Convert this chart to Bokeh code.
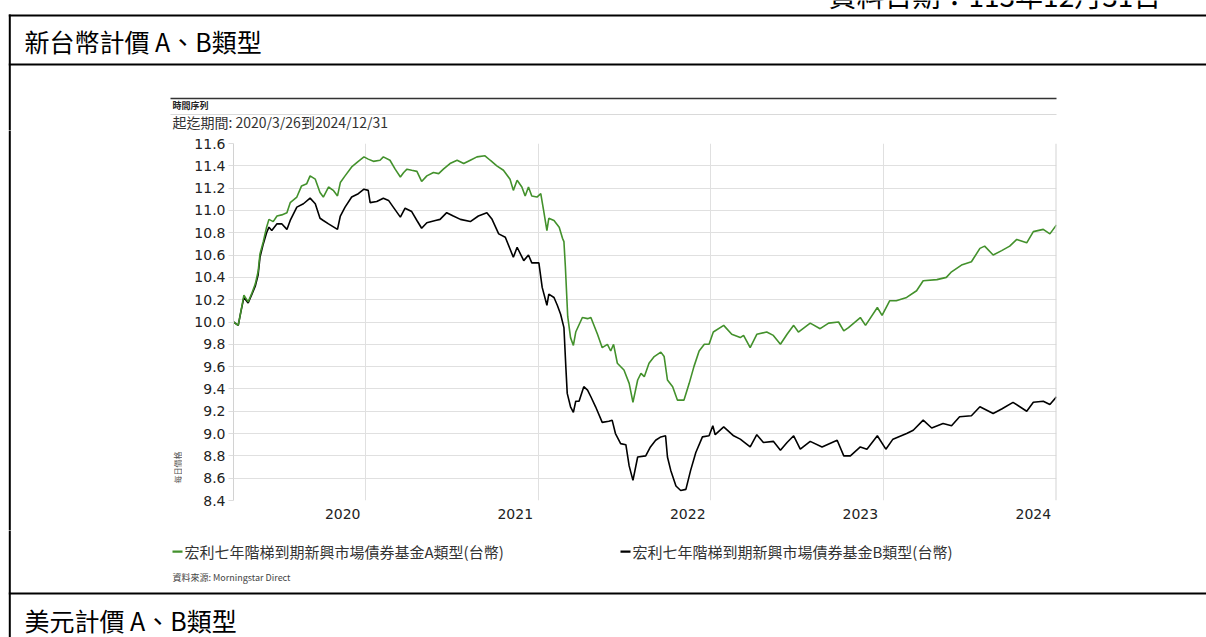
import pandas as pd
from bokeh.plotting import figure
from bokeh.layouts import column, row
from bokeh.models import (Range1d, FixedTicker, Label, NumeralTickFormatter,
                          CustomJSTickFormatter, Span)
from bokeh.embed import file_html
from bokeh.resources import INLINE

# ---------------- data ----------------
dates_a = [
    "2020-03-26", "2020-04-05", "2020-04-10", "2020-04-17", "2020-04-26", "2020-05-04", "2020-05-11",
    "2020-05-17", "2020-05-21", "2020-05-28", "2020-06-04", "2020-06-09", "2020-06-18", "2020-06-26",
    "2020-07-06", "2020-07-17", "2020-07-24", "2020-08-07", "2020-08-17", "2020-08-28", "2020-09-04",
    "2020-09-15", "2020-09-25", "2020-10-02", "2020-10-13", "2020-10-23", "2020-11-01", "2020-11-07",
    "2020-11-17", "2020-12-01", "2020-12-15", "2020-12-27", "2021-01-05", "2021-01-16", "2021-01-30",
    "2021-02-06", "2021-02-20", "2021-03-03", "2021-03-14", "2021-03-21", "2021-03-28", "2021-04-07",
    "2021-04-18", "2021-04-28", "2021-05-09", "2021-05-23", "2021-06-03", "2021-06-13", "2021-06-27",
    "2021-07-12", "2021-07-26", "2021-08-09", "2021-08-23", "2021-09-09", "2021-09-20", "2021-10-04",
    "2021-10-18", "2021-11-01", "2021-11-08", "2021-11-16", "2021-11-26", "2021-12-03", "2021-12-10",
    "2021-12-17", "2021-12-28", "2022-01-05", "2022-01-11", "2022-01-18", "2022-01-22", "2022-02-02",
    "2022-02-13", "2022-02-20", "2022-02-23", "2022-02-26", "2022-03-03", "2022-03-09", "2022-03-15",
    "2022-03-20", "2022-04-03", "2022-04-14", "2022-04-21", "2022-05-05", "2022-05-15", "2022-05-26",
    "2022-06-02", "2022-06-08", "2022-06-16", "2022-06-30", "2022-07-11", "2022-07-19", "2022-07-29",
    "2022-08-05", "2022-08-12", "2022-08-22", "2022-09-02", "2022-09-16", "2022-09-23", "2022-09-30",
    "2022-10-11", "2022-10-21", "2022-11-04", "2022-11-15", "2022-11-25", "2022-12-06", "2022-12-17",
    "2022-12-27", "2023-01-05", "2023-01-27", "2023-02-13", "2023-03-03", "2023-03-10", "2023-03-24",
    "2023-04-07", "2023-04-28", "2023-05-12", "2023-05-27", "2023-06-10", "2023-06-24", "2023-07-04",
    "2023-07-29", "2023-08-19", "2023-09-06", "2023-09-27", "2023-10-08", "2023-10-18", "2023-11-12",
    "2023-11-23", "2023-12-18", "2023-12-28", "2024-01-13", "2024-01-27", "2024-02-18", "2024-03-10",
    "2024-03-24", "2024-04-22", "2024-05-12", "2024-05-23", "2024-06-13", "2024-07-04", "2024-07-22",
    "2024-08-01", "2024-08-19", "2024-09-06", "2024-09-23", "2024-10-08", "2024-10-29", "2024-11-12",
    "2024-12-03", "2024-12-17", "2024-12-31",
]
nav_a = [
    10.00, 9.97, 10.08, 10.24, 10.18, 10.26, 10.34,
    10.45, 10.61, 10.72, 10.85, 10.92, 10.90, 10.95,
    10.96, 10.98, 11.07, 11.12, 11.22, 11.24, 11.31,
    11.28, 11.16, 11.12, 11.21, 11.18, 11.13, 11.25,
    11.31, 11.39, 11.44, 11.48, 11.46, 11.44, 11.45,
    11.48, 11.45, 11.37, 11.30, 11.34, 11.37, 11.36,
    11.35, 11.26, 11.31, 11.34, 11.33, 11.37, 11.42,
    11.45, 11.42, 11.45, 11.48, 11.49, 11.45, 11.40,
    11.36, 11.28, 11.18, 11.27, 11.21, 11.13, 11.21,
    11.13, 11.12, 11.15, 11.00, 10.82, 10.93, 10.91,
    10.85, 10.75, 10.72, 10.50, 10.05, 9.86, 9.79,
    9.91, 10.04, 10.03, 10.04, 9.89, 9.77, 9.80,
    9.74, 9.80, 9.63, 9.57, 9.45, 9.28, 9.48,
    9.54, 9.51, 9.63, 9.69, 9.73, 9.69, 9.48,
    9.42, 9.30, 9.30, 9.45, 9.60, 9.74, 9.80,
    9.80, 9.91, 9.97, 9.89, 9.86, 9.88, 9.77,
    9.89, 9.91, 9.88, 9.80, 9.89, 9.97, 9.91,
    9.99, 9.94, 9.99, 10.00, 9.92, 9.95, 10.04,
    9.97, 10.13, 10.06, 10.19, 10.19, 10.22, 10.28,
    10.37, 10.38, 10.40, 10.45, 10.51, 10.54, 10.66,
    10.68, 10.60, 10.64, 10.68, 10.74, 10.71, 10.81,
    10.83, 10.79, 10.87,
]

dates_b = [
    "2020-03-26", "2020-04-05", "2020-04-10", "2020-04-17", "2020-04-26", "2020-05-04", "2020-05-11",
    "2020-05-17", "2020-05-21", "2020-05-28", "2020-06-04", "2020-06-09", "2020-06-15", "2020-06-26",
    "2020-07-06", "2020-07-17", "2020-07-24", "2020-08-07", "2020-08-21", "2020-09-04", "2020-09-15",
    "2020-09-25", "2020-10-02", "2020-10-13", "2020-11-01", "2020-11-07", "2020-11-17", "2020-12-01",
    "2020-12-15", "2020-12-27", "2021-01-05", "2021-01-09", "2021-01-23", "2021-02-06", "2021-02-17",
    "2021-02-27", "2021-03-14", "2021-03-24", "2021-04-07", "2021-04-18", "2021-04-28", "2021-05-09",
    "2021-05-27", "2021-06-06", "2021-06-20", "2021-07-04", "2021-07-19", "2021-08-09", "2021-08-26",
    "2021-09-13", "2021-09-24", "2021-10-08", "2021-10-22", "2021-11-08", "2021-11-16", "2021-11-30",
    "2021-12-10", "2021-12-17", "2022-01-01", "2022-01-08", "2022-01-18", "2022-01-22", "2022-02-02",
    "2022-02-09", "2022-02-16", "2022-02-23", "2022-02-27", "2022-03-02", "2022-03-09", "2022-03-15",
    "2022-03-20", "2022-03-27", "2022-04-06", "2022-04-14", "2022-04-21", "2022-05-01", "2022-05-15",
    "2022-05-29", "2022-06-05", "2022-06-12", "2022-06-23", "2022-07-04", "2022-07-11", "2022-07-19",
    "2022-07-29", "2022-08-15", "2022-08-25", "2022-09-05", "2022-09-16", "2022-09-26", "2022-09-30",
    "2022-10-07", "2022-10-18", "2022-10-28", "2022-11-08", "2022-11-18", "2022-11-29", "2022-12-13",
    "2022-12-27", "2023-01-04", "2023-01-09", "2023-01-27", "2023-02-17", "2023-03-03", "2023-03-24",
    "2023-04-07", "2023-04-21", "2023-05-12", "2023-05-27", "2023-06-10", "2023-06-24", "2023-07-08",
    "2023-07-29", "2023-08-23", "2023-09-24", "2023-10-08", "2023-10-22", "2023-11-12", "2023-11-26",
    "2023-12-18", "2024-01-05", "2024-01-20", "2024-02-18", "2024-03-03", "2024-03-24", "2024-04-11",
    "2024-05-05", "2024-05-23", "2024-06-09", "2024-07-04", "2024-07-22", "2024-08-19", "2024-09-06",
    "2024-09-30", "2024-10-29", "2024-11-12", "2024-12-03", "2024-12-17", "2024-12-31",
]
nav_b = [
    10.00, 9.97, 10.08, 10.22, 10.17, 10.25, 10.32,
    10.42, 10.58, 10.70, 10.80, 10.85, 10.82, 10.88,
    10.88, 10.83, 10.91, 11.03, 11.06, 11.11, 11.06,
    10.93, 10.91, 10.88, 10.83, 10.95, 11.03, 11.12,
    11.15, 11.19, 11.18, 11.07, 11.08, 11.11, 11.09,
    11.03, 10.94, 11.02, 10.99, 10.91, 10.84, 10.89,
    10.91, 10.92, 10.98, 10.95, 10.92, 10.90, 10.95,
    10.98, 10.92, 10.79, 10.76, 10.58, 10.67, 10.55,
    10.60, 10.53, 10.53, 10.31, 10.15, 10.25, 10.22,
    10.15, 10.07, 9.95, 9.60, 9.36, 9.24, 9.19,
    9.29, 9.29, 9.42, 9.39, 9.33, 9.24, 9.10,
    9.11, 9.12, 9.00, 8.91, 8.90, 8.71, 8.58,
    8.79, 8.80, 8.88, 8.94, 8.97, 8.98, 8.79,
    8.67, 8.53, 8.49, 8.50, 8.67, 8.83, 8.97,
    8.98, 9.07, 8.99, 9.06, 8.98, 8.95, 8.88,
    8.99, 8.92, 8.93, 8.85, 8.92, 8.98, 8.86,
    8.93, 8.88, 8.94, 8.80, 8.80, 8.88, 8.86,
    8.98, 8.86, 8.95, 9.00, 9.03, 9.12, 9.05,
    9.09, 9.07, 9.15, 9.16, 9.24, 9.18, 9.22,
    9.28, 9.20, 9.28, 9.29, 9.26, 9.33,
]

series_labels = ["宏利七年階梯到期新興市場債券基金A類型(台幣)",
                 "宏利七年階梯到期新興市場債券基金B類型(台幣)"]
y_ticks = [8.4, 8.6, 8.8, 9.0, 9.2, 9.4, 9.6, 9.8, 10.0, 10.2, 10.4, 10.6, 10.8, 11.0, 11.2, 11.4, 11.6]
x_tick_labels = ["2020", "2021", "2022", "2023", "2024"]
year_ends = ["2020-12-31", "2021-12-31", "2022-12-31", "2023-12-31", "2024-12-31"]
x_start, x_end = "2020-03-26", "2024-12-31"

doc_date = "資料日期：113年12月31日"
section_titles = ["新台幣計價 A、B類型", "美元計價 A、B類型"]
chart_caption = "時間序列"
chart_period = "起迄期間: 2020/3/26到2024/12/31"
y_title = "每日價格"
source_note = "資料來源: Morningstar Direct"

# ---------------- styling ----------------
GREEN = "#43912c"
SERIES_COLORS = [GREEN, "black"]
CJK = "Noto Sans CJK TC"
NUM = "DejaVu Sans"
PAGE_W, PAGE_H = 1206, 637
TOP_H, MID_H = 130, 400          # top strip, chart row
LEFT_W = 182                     # strip left of the chart figure


def ms(d):
    return pd.Timestamp(d).value // 10**6


def no_align(f):
    try:
        f.frame_align = False
    except Exception:
        pass


def deco(w, h, x0, y0):
    """A blank figure whose data units are page pixels (y grows downward)."""
    f = figure(width=w, height=h, output_backend="svg", toolbar_location=None,
               x_range=Range1d(x0, x0 + w), y_range=Range1d(y0 + h, y0),
               x_axis_location=None, y_axis_location=None,
               min_border=0, min_border_left=0, min_border_right=0,
               min_border_top=0, min_border_bottom=0)
    f.outline_line_color = None
    f.xgrid.visible = False
    f.ygrid.visible = False
    f.background_fill_color = "white"
    f.border_fill_color = "white"
    no_align(f)
    return f


def bar(f, x0, x1, y0, y1, color):
    f.quad(left=[x0], right=[x1], top=[y0], bottom=[y1], fill_color=color, line_color=None)


def text(f, x, y, s, size, font, color="black", style="normal", align="left", angle=0):
    f.add_layout(Label(x=x, y=y, text=s, text_font=font, text_font_size=f"{size}px",
                       text_color=color, text_font_style=style, text_align=align,
                       text_baseline="middle", angle=angle, angle_units="deg"))


# ---------------- top strip ----------------
top = deco(PAGE_W, TOP_H, 0, 0)
text(top, 828, -6, doc_date, 28, CJK)
bar(top, 8.3, PAGE_W, 14, 16, "black")
bar(top, 8.3, PAGE_W, 63, 65, "black")
bar(top, 8.3, 10.3, 14, TOP_H + 3, "black")
text(top, 24, 40, section_titles[0], 25, CJK)
bar(top, 170, 1056, 97.3, 98.8, "#333333")
bar(top, 170, 1056, 113.5, 114.5, "#d9d9d9")
text(top, 172, 105, chart_caption, 9, CJK, "#222222", style="bold")
text(top, 172, 121, chart_period, 14, CJK, "#333333")

# ---------------- left strip ----------------
left = deco(LEFT_W, MID_H, 0, TOP_H)
bar(left, 8.3, 10.3, TOP_H - 3, TOP_H + MID_H + 3, "black")
text(left, 177, 467, y_title, 8, CJK, "#555555", align="center", angle=90)

# ---------------- chart ----------------
p = figure(width=PAGE_W - LEFT_W, height=MID_H, output_backend="svg", toolbar_location=None,
           x_axis_type="datetime",
           x_range=Range1d(ms(x_start), ms(x_end)),
           y_range=Range1d(y_ticks[0], y_ticks[-1]),
           min_border_left=233 - LEFT_W, min_border_right=PAGE_W - 1056,
           min_border_top=143 - TOP_H, min_border_bottom=TOP_H + MID_H - 500)
p.outline_line_color = None
p.background_fill_color = "white"
p.border_fill_color = "white"
no_align(p)

rb = p.line([pd.Timestamp(d) for d in dates_b], nav_b, line_color=SERIES_COLORS[1], line_width=1.6)
ra = p.line([pd.Timestamp(d) for d in dates_a], nav_a, line_color=SERIES_COLORS[0], line_width=1.6)

p.yaxis.ticker = FixedTicker(ticks=y_ticks)
p.yaxis.formatter = NumeralTickFormatter(format="0.0")
p.yaxis.axis_line_color = "#d2d2d2"
p.yaxis.major_tick_line_color = "#dddddd"
p.yaxis.major_tick_out = 5
p.yaxis.major_tick_in = 0
p.yaxis.minor_tick_line_color = None
p.yaxis.major_label_standoff = 3
p.yaxis.major_label_text_font = NUM
p.yaxis.major_label_text_font_size = "14px"
p.yaxis.major_label_text_color = "#222222"

label_pos = [ms(d) - 49 * 86400000 for d in year_ends]
p.xaxis.ticker = FixedTicker(ticks=label_pos)
p.xaxis.formatter = CustomJSTickFormatter(
    args=dict(tick_pos=label_pos, tick_labels=x_tick_labels),
    code="""
    for (let i = 0; i < tick_pos.length; i++) {
        if (Math.abs(tick_pos[i] - tick) < 1e6) return tick_labels[i];
    }
    return "";
    """)
p.xaxis.axis_line_color = None
p.xaxis.major_tick_line_color = None
p.xaxis.minor_tick_line_color = None
p.xaxis.major_tick_out = 0
p.xaxis.major_label_standoff = 8
p.xaxis.major_label_text_font = NUM
p.xaxis.major_label_text_font_size = "14px"
p.xaxis.major_label_text_color = "#222222"

p.xgrid.ticker = FixedTicker(ticks=[ms(d) for d in year_ends])
p.xgrid.grid_line_color = "#e0e0e0"
p.ygrid.grid_line_color = "#e0e0e0"
p.add_layout(Span(location=ms(x_end), dimension="height", line_color="#d4d4d4", line_width=2))

# ---------------- bottom strip ----------------
BOT_H = PAGE_H - TOP_H - MID_H
bot = deco(PAGE_W, BOT_H, 0, TOP_H + MID_H)
bar(bot, 8.3, 10.3, TOP_H + MID_H - 3, PAGE_H + 3, "black")
bar(bot, 8.3, PAGE_W, 592, 594, "black")
text(bot, 24, 619, section_titles[1], 25, CJK)
text(bot, 172, 577, source_note, 9, CJK, "#444444")

# legend: swatch in each series' colour + its name
for i, lx in enumerate([172, 620]):
    bar(bot, lx, lx + 10, 550, 552.2, SERIES_COLORS[i])
    text(bot, lx + 12, 551, series_labels[i], 15, CJK, "#333333")

layout = column(top, row(left, p), bot)
open("out.html", "w").write(file_html(layout, INLINE))
